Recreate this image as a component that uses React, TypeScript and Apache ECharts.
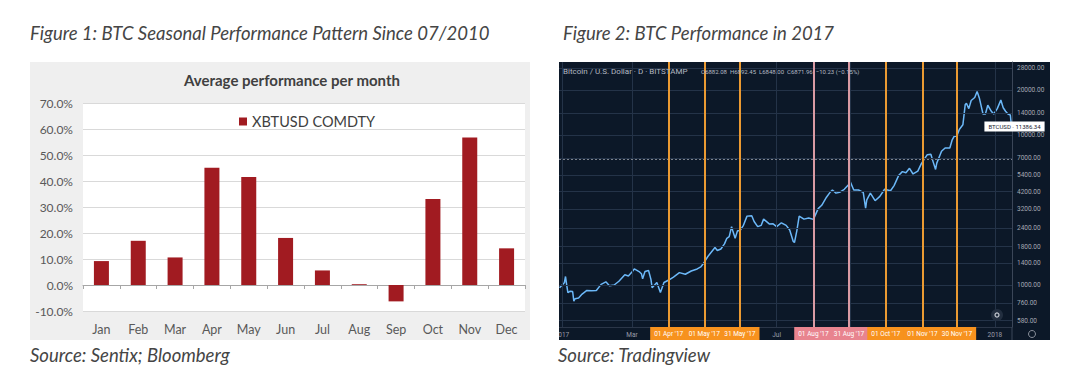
import React, { useEffect, useRef } from 'react';
import * as echarts from 'echarts';

// ---------- Figure 1 data ----------
const months = ['Jan', 'Feb', 'Mar', 'Apr', 'May', 'Jun', 'Jul', 'Aug', 'Sep', 'Oct', 'Nov', 'Dec'];
const avgPerf = [9.2, 17.0, 10.6, 45.1, 41.5, 18.1, 5.6, 0.3, -6.3, 33.1, 56.7, 14.1];

// ---------- Figure 2 data ----------
const btcDates = [
  '2016-12-30', '2017-01-01', '2017-01-03', '2017-01-04', '2017-01-05', '2017-01-06', '2017-01-08', '2017-01-10',
  '2017-01-11', '2017-01-12', '2017-01-15', '2017-01-18', '2017-01-22', '2017-01-26', '2017-01-30', '2017-02-03',
  '2017-02-07', '2017-02-10', '2017-02-14', '2017-02-18', '2017-02-23', '2017-02-26', '2017-03-01', '2017-03-03',
  '2017-03-07', '2017-03-09', '2017-03-10', '2017-03-12', '2017-03-15', '2017-03-17', '2017-03-18', '2017-03-22',
  '2017-03-25', '2017-03-28', '2017-04-01', '2017-04-05', '2017-04-10', '2017-04-15', '2017-04-20', '2017-04-25',
  '2017-04-28', '2017-05-01', '2017-05-04', '2017-05-08', '2017-05-10', '2017-05-12', '2017-05-15', '2017-05-18',
  '2017-05-20', '2017-05-22', '2017-05-24', '2017-05-25', '2017-05-27', '2017-05-29', '2017-05-31', '2017-06-03',
  '2017-06-06', '2017-06-10', '2017-06-12', '2017-06-15', '2017-06-18', '2017-06-20', '2017-06-25', '2017-06-28',
  '2017-07-01', '2017-07-05', '2017-07-09', '2017-07-12', '2017-07-15', '2017-07-16', '2017-07-18', '2017-07-20',
  '2017-07-24', '2017-07-28', '2017-08-01', '2017-08-05', '2017-08-08', '2017-08-12', '2017-08-15', '2017-08-17',
  '2017-08-20', '2017-08-23', '2017-08-27', '2017-08-31', '2017-09-01', '2017-09-04', '2017-09-08', '2017-09-12',
  '2017-09-14', '2017-09-15', '2017-09-18', '2017-09-22', '2017-09-26', '2017-09-30', '2017-10-05', '2017-10-08',
  '2017-10-12', '2017-10-15', '2017-10-18', '2017-10-21', '2017-10-24', '2017-10-28', '2017-10-31', '2017-11-05',
  '2017-11-08', '2017-11-10', '2017-11-12', '2017-11-13', '2017-11-17', '2017-11-20', '2017-11-24', '2017-11-26',
  '2017-11-28', '2017-11-29', '2017-11-30', '2017-12-02', '2017-12-05', '2017-12-07', '2017-12-08', '2017-12-10',
  '2017-12-12', '2017-12-15', '2017-12-17', '2017-12-19', '2017-12-22', '2017-12-24', '2017-12-26', '2017-12-29',
  '2017-12-31', '2018-01-03', '2018-01-06', '2018-01-08', '2018-01-10', '2018-01-12', '2018-01-14', '2018-01-15',
];
const btcClose = [
  960, 998, 1035, 1140, 1000, 890, 910, 905,
  780, 810, 820, 870, 920, 915, 920, 1010,
  1050, 990, 1000, 1060, 1170, 1150, 1220, 1280,
  1230, 1190, 1100, 1230, 1250, 1090, 960, 1040,
  890, 1040, 1080, 1130, 1210, 1180, 1240, 1280,
  1320, 1420, 1550, 1700, 1780, 1700, 1740, 1880,
  2050, 2100, 2450, 2300, 2050, 2300, 2300, 2500,
  2880, 2900, 2650, 2450, 2500, 2750, 2550, 2560,
  2450, 2600, 2500, 2330, 1950, 1920, 2300, 2880,
  2750, 2800, 2740, 3230, 3400, 3850, 4150, 4300,
  4100, 4150, 4350, 4700, 4900, 4300, 4300, 4150,
  3250, 3700, 4100, 3650, 3900, 4350, 4250, 4600,
  5400, 5700, 5600, 6000, 5500, 5750, 6450, 7400,
  7450, 6600, 5900, 6500, 7800, 8200, 8200, 9300,
  9900, 9800, 9900, 10900, 11700, 16000, 16300, 15000,
  17000, 17800, 19500, 17500, 13800, 13800, 15800, 14400,
  13800, 15000, 17100, 15200, 14400, 13800, 13600, 11386.34,
];
const priceLevels = [28000, 20000, 14000, 10000, 7000, 5400, 4200, 3200, 2400, 1800, 1400, 1000, 760, 580];
const monthGridDates = ['2017-01-01', '2017-03-01', '2017-05-01', '2017-07-01', '2017-09-01', '2017-11-01', '2018-01-01'];
const monthGridTexts = ['2017', 'Mar', '', 'Jul', '', '', '2018'];
const markDates = ['2017-04-01', '2017-05-01', '2017-05-31', '2017-08-01', '2017-08-31', '2017-10-01', '2017-11-01', '2017-11-30'];
const markTexts = ["01 Apr '17", "01 May '17", "31 May '17", "01 Aug '17", "31 Aug '17", "01 Oct '17", "01 Nov '17", "30 Nov '17"];
const markKinds = ['orange', 'orange', 'orange', 'pink', 'pink', 'orange', 'orange', 'orange'];
const lastPriceDate = '2018-01-15';
const lastPrice = 11386.34;
const prevClose = 6871.96;

const ORANGE_LINE = '#eb9a32';
const ORANGE_BOX = '#f7921e';
const PINK_LINE = '#d99aa3';
const PINK_BOX = '#e8848f';
const TV_FONT = 'Roboto';
const XL_FONT = 'Lato';
const CAPTION_FONT = `italic 18.5px ${XL_FONT}`;

export default function App() {
  const ref = useRef<HTMLDivElement>(null);

  useEffect(() => {
    if (!ref.current) return;
    const chart = echarts.init(ref.current, undefined, { renderer: 'svg' });

    const option: any = {
      animation: false,
      legend: {
        data: ['XBTUSD COMDTY'],
        left: 234,
        top: 109,
        icon: 'rect',
        itemWidth: 8,
        itemHeight: 8,
        itemGap: 4,
        textStyle: { color: '#404040', fontSize: 14.5, fontFamily: XL_FONT },
        selectedMode: false,
      },
      graphic: [
        { type: 'rect', z: -10, shape: { x: 30, y: 62, width: 500, height: 278 }, style: { fill: '#efefef' } },
        { type: 'rect', z: -10, shape: { x: 559, y: 62, width: 491, height: 278 }, style: { fill: '#0c1828' } },
        {
          type: 'text', x: 30, y: 33,
          style: { text: 'Figure 1: BTC Seasonal Performance Pattern Since 07/2010', fill: '#454545', font: CAPTION_FONT, textVerticalAlign: 'middle' },
        },
        {
          type: 'text', x: 563, y: 33,
          style: { text: 'Figure 2: BTC Performance in 2017', fill: '#454545', font: CAPTION_FONT, textVerticalAlign: 'middle' },
        },
        {
          type: 'text', x: 30, y: 355,
          style: { text: 'Source: Sentix; Bloomberg', fill: '#454545', font: CAPTION_FONT, textVerticalAlign: 'middle' },
        },
        {
          type: 'text', x: 558, y: 355,
          style: { text: 'Source: Tradingview', fill: '#454545', font: CAPTION_FONT, textVerticalAlign: 'middle' },
        },
        {
          type: 'text', x: 292, y: 80,
          style: { text: 'Average performance per month', fill: '#404040', font: `bold 15px ${XL_FONT}`, textAlign: 'center', textVerticalAlign: 'middle' },
        },
        {
          type: 'text', x: 563, y: 71, z: 10,
          style: { text: 'Bitcoin / U.S. Dollar · D · BITSTAMP', fill: '#b4b8c2', font: `8px ${TV_FONT}`, textVerticalAlign: 'middle' },
        },
        {
          type: 'text', x: 701, y: 71, z: 10,
          style: { text: 'O6882.08  H6892.45  L6848.00  C6871.96  −10.23 (−0.15%)', fill: '#b4b8c2', font: `6px ${TV_FONT}`, textVerticalAlign: 'middle' },
        },
        { type: 'circle', z: 10, shape: { cx: 997, cy: 315, r: 6 }, style: { fill: '#222e3f' } },
        { type: 'ring', z: 11, shape: { cx: 997, cy: 315, r: 2.6, r0: 1.4 }, style: { fill: '#c8ccd4' } },
        { type: 'circle', z: 10, shape: { cx: 1032, cy: 334, r: 3.5 }, style: { fill: 'none', stroke: '#8a909b', lineWidth: 1 } },
        { type: 'line', z: 10, shape: { x1: 1012, y1: 327, x2: 1012, y2: 340 }, style: { stroke: '#3b4658', lineWidth: 1 } },
        { type: 'rect', z: 100, shape: { x: 540, y: 326, width: 19, height: 16 }, style: { fill: '#ffffff' } },
      ],
      grid: [
        { left: 83, top: 103, width: 442, height: 208, show: true, backgroundColor: '#ffffff', borderWidth: 0 },
        { left: 559, top: 62, width: 453, height: 265, show: false },
      ],
      xAxis: [
        {
          gridIndex: 0, type: 'category', data: months, position: 'bottom',
          axisLine: { show: false, onZero: false }, axisTick: { show: false },
          axisLabel: { color: '#595959', fontSize: 12.5, margin: 12, fontFamily: XL_FONT },
        },
        {
          gridIndex: 0, type: 'category', data: months, position: 'bottom',
          axisLine: { show: true, onZero: true, lineStyle: { color: '#a6a6a6' } },
          axisTick: { show: true, length: 4, lineStyle: { color: '#a6a6a6' } },
          axisLabel: { show: false },
        },
        {
          gridIndex: 1, type: 'time', min: '2016-12-29 12:00', max: '2018-01-15 10:00',
          axisLine: { show: true, onZero: false, lineStyle: { color: '#2b3648' } },
          axisTick: { show: false }, axisLabel: { show: false }, splitLine: { show: false },
        },
      ],
      yAxis: [
        {
          gridIndex: 0, type: 'value', min: -10, max: 70, interval: 10,
          axisLabel: { formatter: (v: number) => v.toFixed(1) + '%', color: '#595959', fontSize: 12, margin: 10, fontFamily: XL_FONT },
          splitLine: { lineStyle: { color: '#d9d9d9' } },
          axisLine: { show: false }, axisTick: { show: false },
        },
        {
          gridIndex: 1, type: 'log', logBase: 10, min: 525, max: 30690, position: 'right',
          axisLine: { show: true, lineStyle: { color: '#3b4658' } },
          axisTick: { show: false }, axisLabel: { show: false }, splitLine: { show: false },
        },
      ],
      series: [
        {
          type: 'bar', name: 'XBTUSD COMDTY', xAxisIndex: 0, yAxisIndex: 0,
          data: avgPerf, barWidth: 15, itemStyle: { color: '#a11b21' },
        },
        {
          type: 'line', name: 'tvgrid', xAxisIndex: 2, yAxisIndex: 1, data: [], z: 1, silent: true,
          markLine: {
            symbol: 'none', silent: true, animation: false,
            lineStyle: { color: '#243348', width: 1, type: 'solid' },
            data: [
              ...priceLevels.map((p) => ({
                yAxis: p,
                label: { show: true, position: 'end', distance: 5, formatter: p.toFixed(2), color: '#a4a8b2', fontSize: 6.5, fontFamily: TV_FONT },
              })),
              ...monthGridDates.map((d, i) => ({
                xAxis: d,
                label: monthGridTexts[i]
                  ? { show: true, position: 'start', distance: 4, formatter: monthGridTexts[i], color: '#9a9ea8', fontSize: 6.5, fontFamily: TV_FONT }
                  : { show: false },
              })),
              {
                yAxis: prevClose,
                lineStyle: { color: '#7d838e', type: [2, 2], width: 1 },
                label: { show: false },
              },
            ],
          },
        },
        {
          type: 'line', name: 'tvmarks', xAxisIndex: 2, yAxisIndex: 1, data: [], z: 3, silent: true,
          markLine: {
            symbol: 'none', silent: true, animation: false,
            data: markDates.map((d, i) => ({
              xAxis: d,
              lineStyle: { color: markKinds[i] === 'pink' ? PINK_LINE : ORANGE_LINE, width: 2, type: 'solid' },
              label: {
                show: true, position: 'start', distance: 0, formatter: markTexts[i],
                color: '#ffffff', fontSize: 6.5, fontFamily: TV_FONT,
                backgroundColor: markKinds[i] === 'pink' ? PINK_BOX : ORANGE_BOX,
                padding: [3, 4, 3, 4],
              },
            })),
          },
        },
        {
          type: 'line', name: 'BTCUSD', xAxisIndex: 2, yAxisIndex: 1, z: 4,
          data: btcDates.map((d, i) => [d, btcClose[i]]),
          showSymbol: false, symbol: 'none',
          lineStyle: { color: '#6cb8f8', width: 1.5 },
          markPoint: {
            symbol: 'rect', symbolSize: 0, silent: true,
            data: [{
              coord: [lastPriceDate, lastPrice],
              label: {
                show: true, position: 'inside', offset: [3, 0],
                formatter: 'BTCUSD · ' + lastPrice.toFixed(2),
                color: '#1a2230', fontSize: 6, fontFamily: TV_FONT,
                backgroundColor: '#ffffff', padding: [2, 4, 2, 4],
              },
            }],
          },
        },
      ],
    };

    chart.setOption(option);
    return () => chart.dispose();
  }, []);

  return <div ref={ref} style={{ position: 'absolute', left: 0, top: 0, width: 1072, height: 386 }} />;
}
